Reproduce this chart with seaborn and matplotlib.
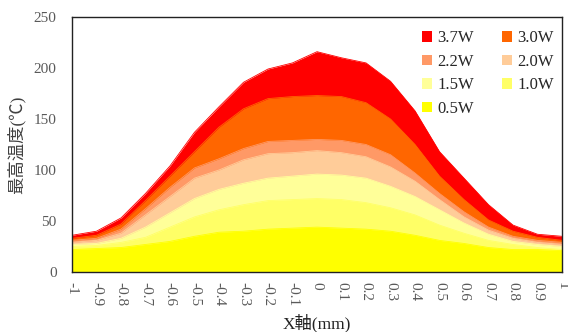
import numpy as np
import pandas as pd
import seaborn as sns
import matplotlib.pyplot as plt
from matplotlib.patches import Patch

# x position along the axis (mm)
x_pos = [-1, -0.9, -0.8, -0.7, -0.6, -0.5, -0.4, -0.3, -0.2, -0.1, 0,
         0.1, 0.2, 0.3, 0.4, 0.5, 0.6, 0.7, 0.8, 0.9, 1]
x_labels = ['-1', '-0.9', '-0.8', '-0.7', '-0.6', '-0.5', '-0.4', '-0.3', '-0.2', '-0.1', '0',
            '0.1', '0.2', '0.3', '0.4', '0.5', '0.6', '0.7', '0.8', '0.9', '1']

# max temperature per input power
p37 = [36, 40, 53, 77, 104, 137, 162, 186, 199, 205, 216, 210, 205, 187, 158, 118, 92, 66, 46, 37, 35]
p30 = [33, 36, 47, 70, 94, 118, 142, 160, 170, 172, 173, 172, 166, 150, 125, 94, 71, 51, 40, 34, 31]
p22 = [31, 33, 42, 62, 83, 102, 111, 121, 128, 129, 130, 129, 125, 115, 97, 77, 59, 44, 35, 31, 29]
p20 = [29, 31, 38, 56, 74, 92, 100, 110, 116, 117, 119, 117, 113, 103, 89, 71, 54, 41, 33, 29, 27]
p15 = [27, 28, 33, 44, 58, 72, 81, 87, 92, 94, 96, 95, 92, 84, 74, 61, 48, 37, 30, 27, 25]
p10 = [25, 26, 29, 34, 44, 54, 61, 66, 70, 71, 72, 71, 68, 63, 56, 46, 38, 31, 27, 24, 22]
p05 = [22, 23, 24, 27, 30, 35, 39, 40, 42, 43, 44, 43, 42, 40, 36, 31, 28, 24, 22, 22, 21]

series = ['3.7W', '3.0W', '2.2W', '2.0W', '1.5W', '1.0W', '0.5W']
colors = ['#FF0000', '#FF6600', '#FF9966', '#FFCC99', '#FFFF99', '#FFFF66', '#FFFF00']

df = pd.DataFrame({'x': x_pos, '3.7W': p37, '3.0W': p30, '2.2W': p22, '2.0W': p20,
                   '1.5W': p15, '1.0W': p10, '0.5W': p05})
long = df.melt(id_vars='x', var_name='power', value_name='temp')

sns.set_style('white')
plt.rcParams['font.family'] = ['Liberation Serif', 'Noto Sans CJK JP']

fig = plt.figure(figsize=(5.68, 3.32), dpi=100)
ax = fig.add_axes([72 / 568, 1 - 272 / 332, 490 / 568, 255 / 332])

# back to front: highest power first
for name, col in zip(series, colors):
    sub = long[long['power'] == name]
    ax.fill_between(sub['x'], 0, sub['temp'], color=col, linewidth=0, zorder=1)
    sns.lineplot(data=sub, x='x', y='temp', color=col, linewidth=0.6, ax=ax,
                 legend=False, zorder=1)

ax.set_xlim(-1, 1)
ax.set_ylim(0, 250)
ax.set_yticks([0, 50, 100, 150, 200, 250])
ax.set_xticks(x_pos)
ax.set_xticklabels(x_labels, rotation=270, va='top', ha='center')
ax.tick_params(axis='both', direction='in', length=4, width=0.8, color='#222222',
               labelsize=11, labelcolor='#595959')
ax.tick_params(axis='x', pad=7)
ax.tick_params(axis='y', pad=11)
for s in ax.spines.values():
    s.set_color('#222222')
    s.set_linewidth(1.0)
    s.set_visible(True)

ax.set_xlabel('X軸(mm)', fontsize=12.5, color='#222222', labelpad=6)
ax.set_ylabel('最高温度(℃)', fontsize=12.5, color='#404040', labelpad=6)

# legend filled row by row like the original
order = [0, 2, 4, 6, 1, 3, 5]
handles = [Patch(facecolor=colors[i], edgecolor='none') for i in order]
labels = [series[i] for i in order]
ax.legend(handles, labels, ncol=2, loc='upper right', bbox_to_anchor=(1.011, 1.0),
          frameon=False, fontsize=12, handlelength=0.6, handleheight=0.6,
          handletextpad=0.3, columnspacing=1.7, labelspacing=0.45,
          borderaxespad=0.4)

fig.savefig('out.png', dpi=100)
